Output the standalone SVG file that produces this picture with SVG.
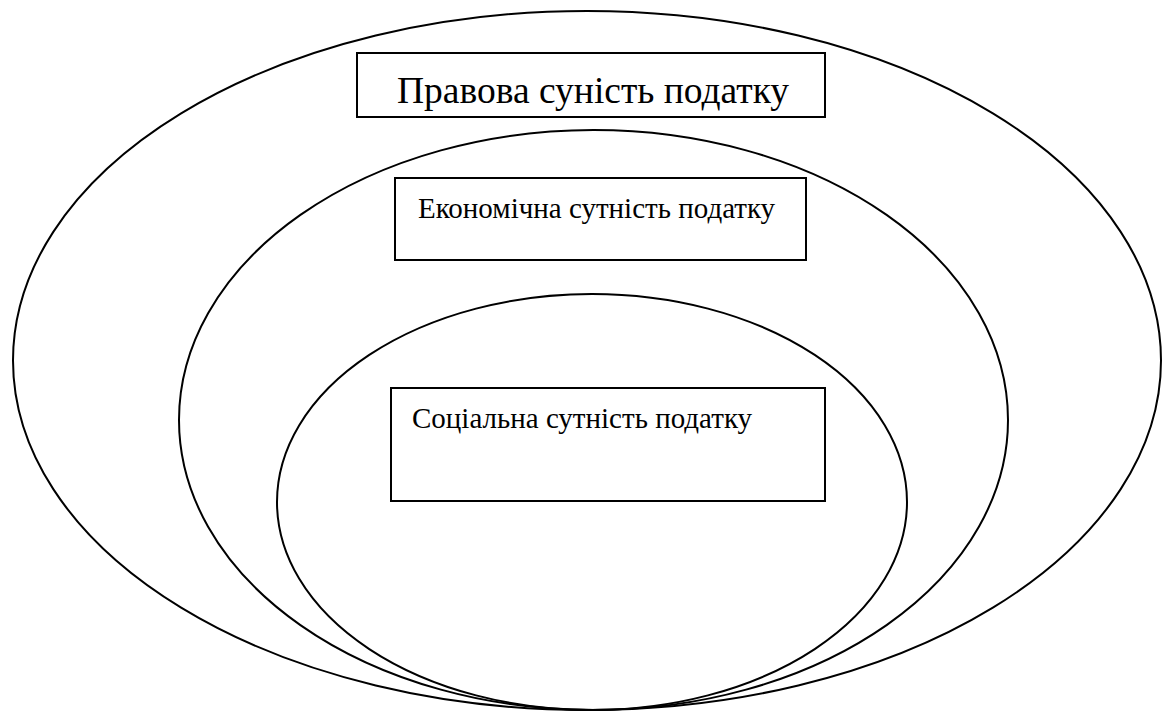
<svg xmlns="http://www.w3.org/2000/svg" width="1164" height="713" viewBox="0 0 1164 713">
<style>
.sh{fill:none;stroke:#000;stroke-width:2}
.bx{fill:#fff;stroke:#000;stroke-width:2}
text{font-family:'Liberation Serif','DejaVu Serif',serif;fill:#000}
</style>
<rect width="1164" height="713" fill="#fff"/>
<g id="outer"><ellipse class="sh" cx="587" cy="360.5" rx="574" ry="349.5"/></g>
<g id="middle"><ellipse class="sh" cx="593.5" cy="420" rx="414.5" ry="290"/></g>
<g id="inner"><ellipse class="sh" cx="592" cy="502" rx="315" ry="208"/></g>
<g id="legal"><rect class="bx" x="357" y="53" width="468" height="64"/><text x="397" y="103" font-size="37.5">Правова суність податку</text></g>
<g id="economic"><rect class="bx" x="395" y="178" width="411" height="82"/><text x="418" y="218" font-size="29">Економічна сутність податку</text></g>
<g id="social"><rect class="bx" x="391" y="388" width="434" height="113"/><text x="412" y="428" font-size="29">Соціальна сутність податку</text></g>
<g id="connectors"></g>
</svg>
